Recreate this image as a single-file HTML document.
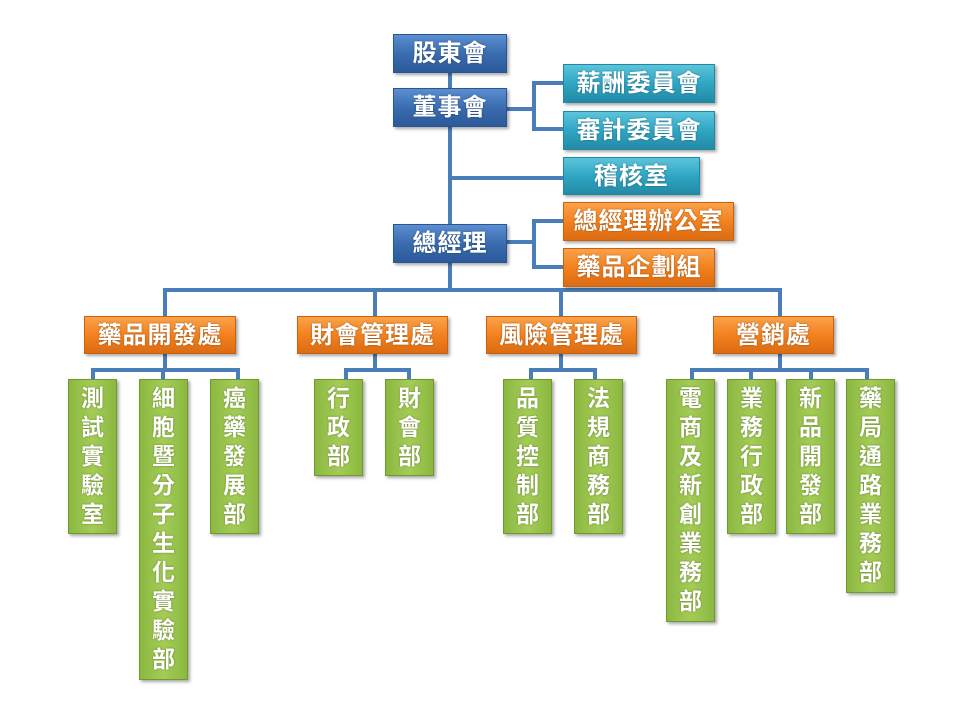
<!DOCTYPE html>
<html><head><meta charset="utf-8"><style>
body{margin:0;width:960px;height:720px;background:#fff;position:relative;overflow:hidden;font-family:"Liberation Sans","Noto Sans CJK TC",sans-serif;}
.b{position:absolute;color:#fff;text-align:center;box-sizing:border-box;text-shadow:0 0 2px rgba(0,0,0,.35);box-shadow:2px 2px 3px rgba(0,0,0,.35);font-weight:bold;}
.h{font-size:24px;line-height:37px;letter-spacing:1px;}
.blue{background:linear-gradient(#5b8fd0,#3a6cb0 50%,#2c5a99);border:1px solid #2a5590;}
.cyan{background:linear-gradient(#5cc4dc,#2fa6c4 50%,#238aa6);border:1px solid #2088a0;}
.org{background:linear-gradient(#fba24a,#f3811f 50%,#dc6c12);border:1px solid #c9620f;}
.grn{background:linear-gradient(90deg,#8bb842,#a4cc55 50%,#8bb842);border:1px solid #6f9a30;}
.v{font-size:23px;line-height:29px;padding-top:4px;width:49px;}
.l{position:absolute;background:#4a7ebb;}
</style></head><body>
<div class="l" style="left:448px;top:72px;width:4px;height:220px"></div>
<div class="l" style="left:507px;top:107px;width:29px;height:4px"></div>
<div class="l" style="left:532px;top:81px;width:4px;height:50px"></div>
<div class="l" style="left:532px;top:81px;width:32px;height:4px"></div>
<div class="l" style="left:532px;top:127px;width:32px;height:4px"></div>
<div class="l" style="left:448px;top:176px;width:116px;height:4px"></div>
<div class="l" style="left:507px;top:240px;width:29px;height:4px"></div>
<div class="l" style="left:532px;top:219px;width:4px;height:50px"></div>
<div class="l" style="left:532px;top:219px;width:32px;height:4px"></div>
<div class="l" style="left:532px;top:265px;width:32px;height:4px"></div>
<div class="l" style="left:163px;top:288px;width:619px;height:4px"></div>
<div class="l" style="left:163px;top:288px;width:4px;height:30px"></div>
<div class="l" style="left:373px;top:288px;width:4px;height:30px"></div>
<div class="l" style="left:559px;top:288px;width:4px;height:30px"></div>
<div class="l" style="left:778px;top:288px;width:4px;height:30px"></div>
<div class="l" style="left:163px;top:353px;width:4px;height:18px"></div>
<div class="l" style="left:91px;top:368px;width:149px;height:4px"></div>
<div class="l" style="left:91px;top:368px;width:4px;height:12px"></div>
<div class="l" style="left:161px;top:368px;width:4px;height:12px"></div>
<div class="l" style="left:236px;top:368px;width:4px;height:12px"></div>
<div class="l" style="left:373px;top:353px;width:4px;height:18px"></div>
<div class="l" style="left:344px;top:368px;width:67px;height:4px"></div>
<div class="l" style="left:344px;top:368px;width:4px;height:12px"></div>
<div class="l" style="left:407px;top:368px;width:4px;height:12px"></div>
<div class="l" style="left:559px;top:353px;width:4px;height:18px"></div>
<div class="l" style="left:529px;top:368px;width:68px;height:4px"></div>
<div class="l" style="left:529px;top:368px;width:4px;height:12px"></div>
<div class="l" style="left:593px;top:368px;width:4px;height:12px"></div>
<div class="l" style="left:778px;top:353px;width:4px;height:18px"></div>
<div class="l" style="left:690px;top:368px;width:179px;height:4px"></div>
<div class="l" style="left:690px;top:368px;width:4px;height:12px"></div>
<div class="l" style="left:749px;top:368px;width:4px;height:12px"></div>
<div class="l" style="left:809px;top:368px;width:4px;height:12px"></div>
<div class="l" style="left:865px;top:368px;width:4px;height:12px"></div>
<div class="b h blue" style="left:393px;top:34px;width:114px;height:39px">股東會</div>
<div class="b h blue" style="left:393px;top:88px;width:114px;height:39px">董事會</div>
<div class="b h blue" style="left:393px;top:224px;width:114px;height:39px">總經理</div>
<div class="b h cyan" style="left:563px;top:64px;width:152px;height:39px">薪酬委員會</div>
<div class="b h cyan" style="left:563px;top:111px;width:152px;height:39px">審計委員會</div>
<div class="b h cyan" style="left:563px;top:157px;width:137px;height:38px">稽核室</div>
<div class="b h org" style="left:563px;top:202px;width:171px;height:39px">總經理辦公室</div>
<div class="b h org" style="left:563px;top:248px;width:152px;height:39px">藥品企劃組</div>
<div class="b h org" style="left:84px;top:316px;width:152px;height:38px">藥品開發處</div>
<div class="b h org" style="left:297px;top:316px;width:151px;height:38px">財會管理處</div>
<div class="b h org" style="left:486px;top:316px;width:151px;height:38px">風險管理處</div>
<div class="b h org" style="left:713px;top:316px;width:121px;height:38px">營銷處</div>
<div class="b v grn" style="left:68px;top:379px;height:155px">測<br>試<br>實<br>驗<br>室</div>
<div class="b v grn" style="left:139px;top:379px;height:301px">細<br>胞<br>暨<br>分<br>子<br>生<br>化<br>實<br>驗<br>部</div>
<div class="b v grn" style="left:210px;top:379px;height:155px">癌<br>藥<br>發<br>展<br>部</div>
<div class="b v grn" style="left:314px;top:379px;height:97px">行<br>政<br>部</div>
<div class="b v grn" style="left:385px;top:379px;height:97px">財<br>會<br>部</div>
<div class="b v grn" style="left:503px;top:379px;height:155px">品<br>質<br>控<br>制<br>部</div>
<div class="b v grn" style="left:574px;top:379px;height:155px">法<br>規<br>商<br>務<br>部</div>
<div class="b v grn" style="left:666px;top:379px;height:243px">電<br>商<br>及<br>新<br>創<br>業<br>務<br>部</div>
<div class="b v grn" style="left:727px;top:379px;height:155px">業<br>務<br>行<br>政<br>部</div>
<div class="b v grn" style="left:786px;top:379px;height:155px">新<br>品<br>開<br>發<br>部</div>
<div class="b v grn" style="left:846px;top:379px;height:214px">藥<br>局<br>通<br>路<br>業<br>務<br>部</div>
</body></html>
